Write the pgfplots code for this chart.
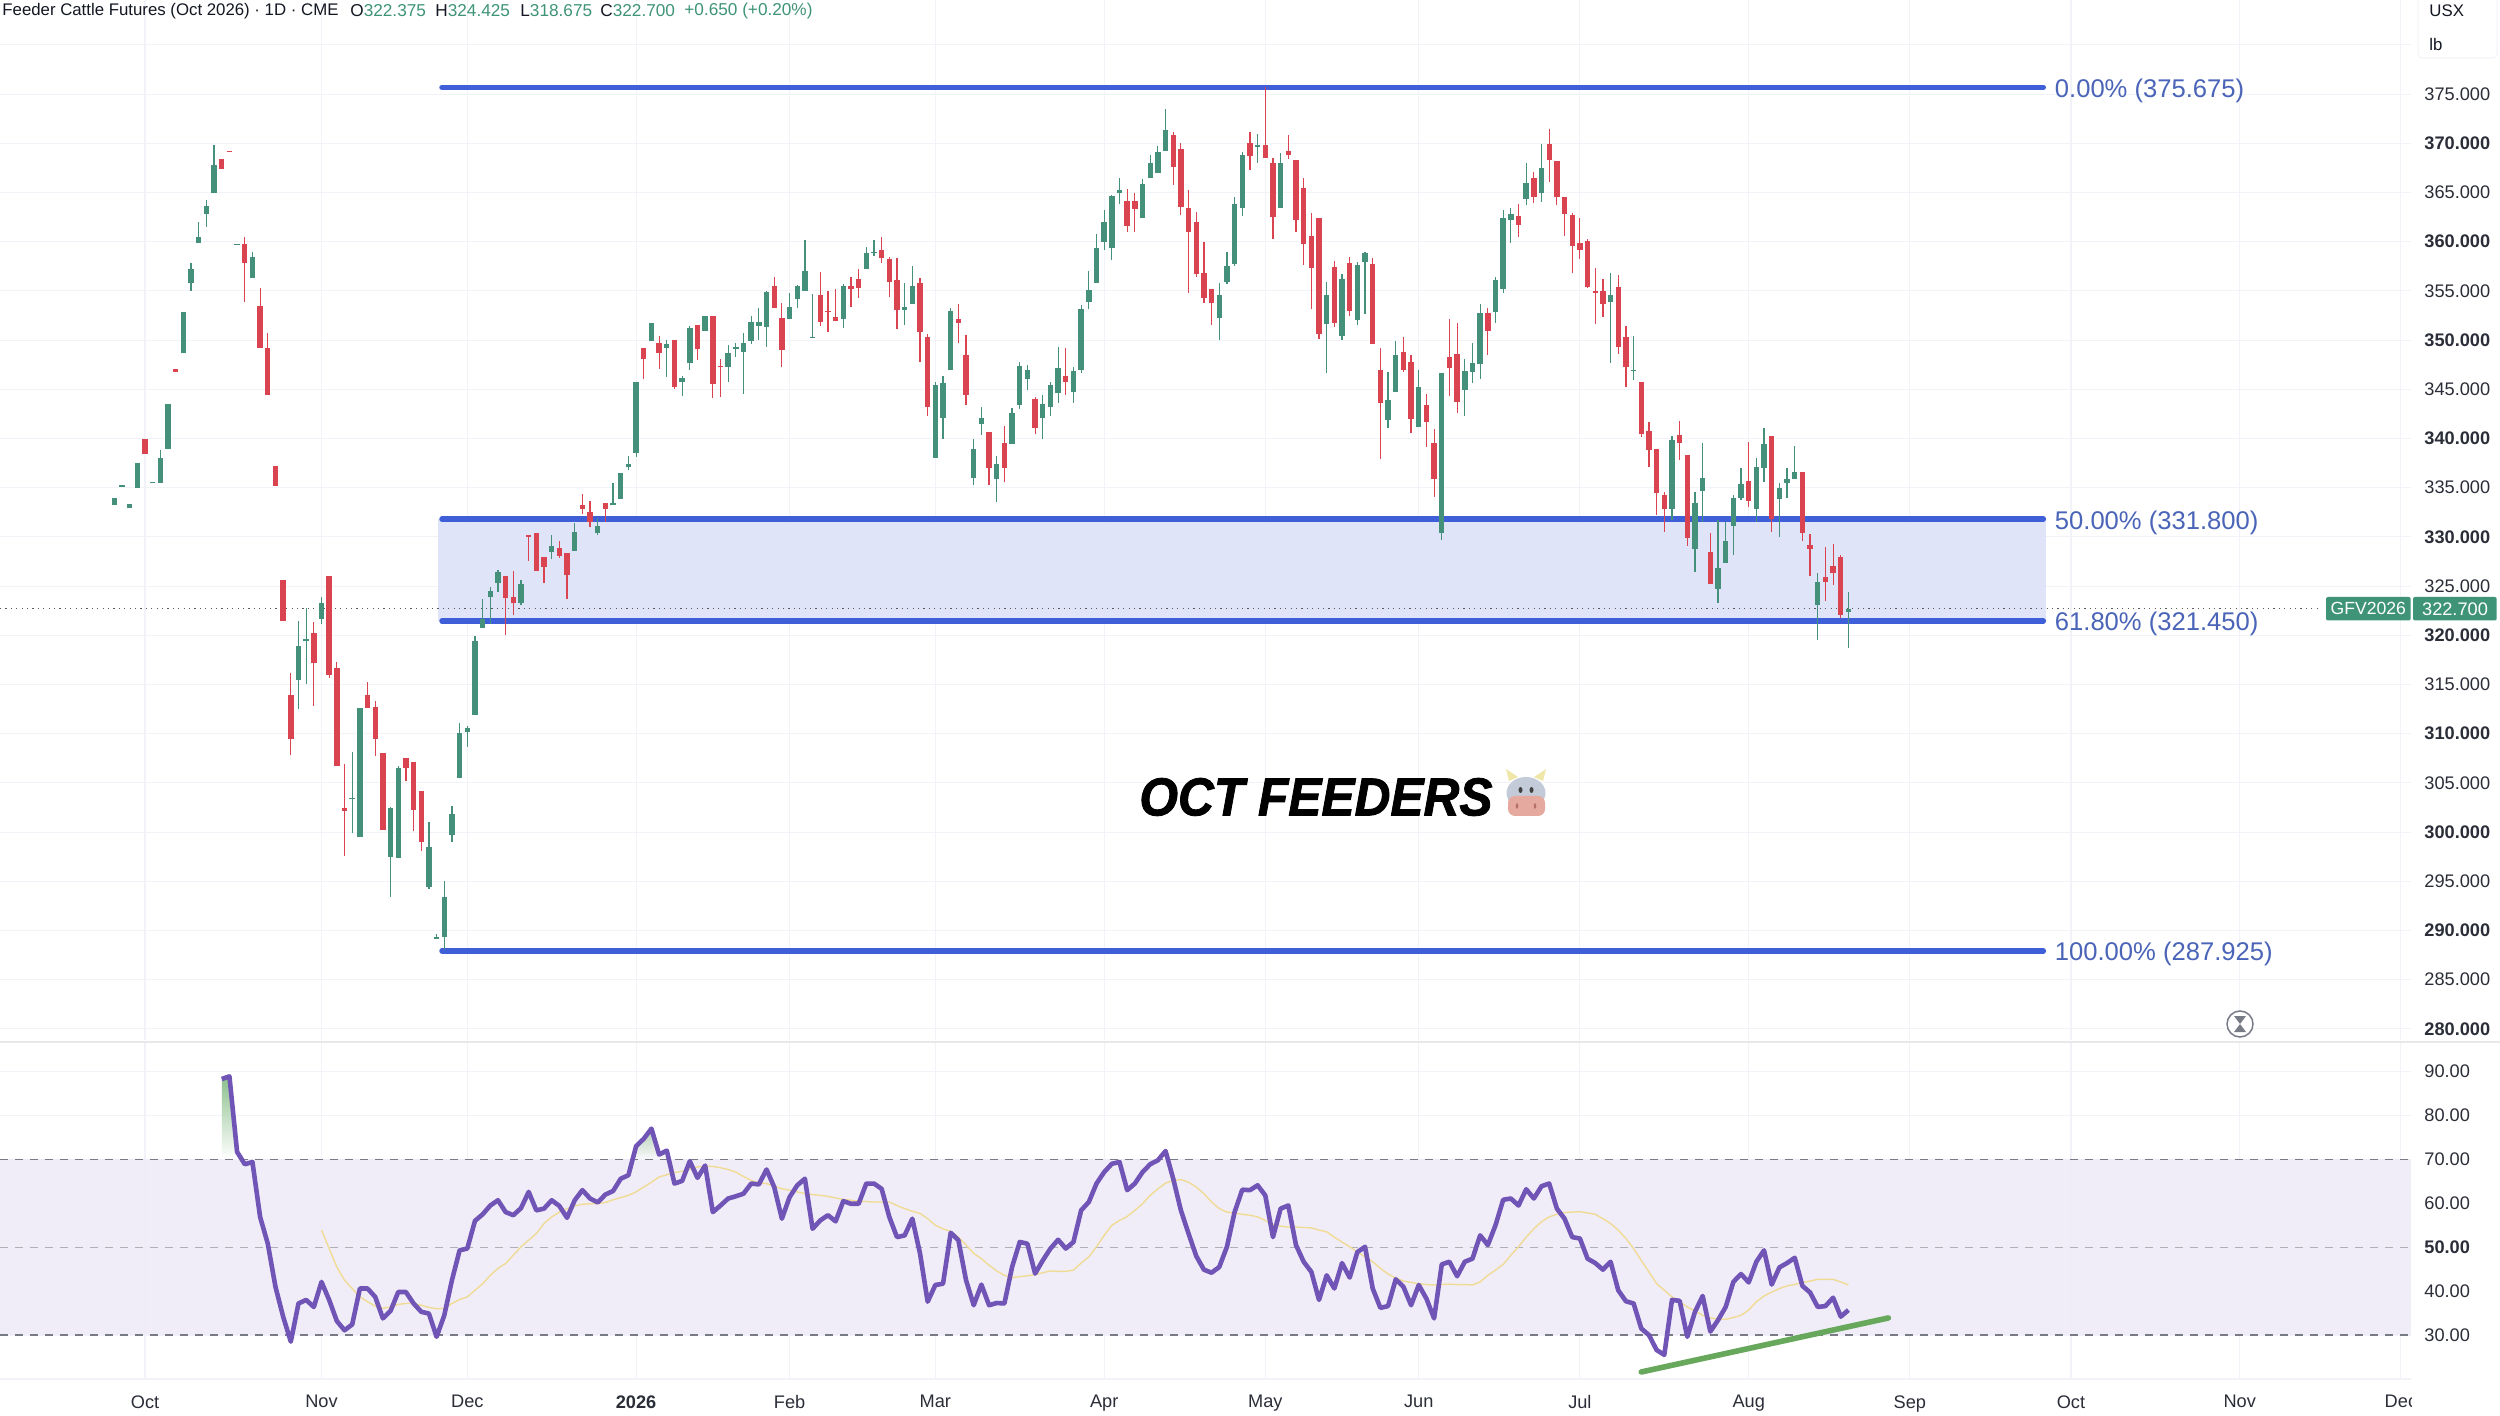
\documentclass[border=0pt]{standalone}
\usepackage{pgfplots}
\usepackage{pgfplotstable}
\usepackage{fontspec}
\pgfplotsset{compat=1.18}
\setmainfont{Liberation Sans}
\newfontface\ttlfont[FakeBold=1.6]{Liberation Sans Bold Italic}
\definecolor{gridc}{HTML}{F1F3F8}
\definecolor{upc}{HTML}{45907A}
\definecolor{dnc}{HTML}{D94450}
\definecolor{fibc}{HTML}{3F5FD9}
\definecolor{fibt}{HTML}{4A64B8}
\definecolor{fibz}{HTML}{DDE2F9}
\definecolor{rsic}{HTML}{7054B6}
\definecolor{sigc}{HTML}{F0DB94}
\definecolor{bandc}{HTML}{EFECF8}
\definecolor{dashc}{HTML}{787B86}
\definecolor{txt}{HTML}{131722}
\definecolor{tagc}{HTML}{3F9478}
\definecolor{trend}{HTML}{68A85C}
\definecolor{cowhead}{HTML}{C3CBD8}
\definecolor{cowsnout}{HTML}{E6A9A0}
\definecolor{cowhorn}{HTML}{EFE6A8}
\definecolor{cownose}{HTML}{B5706E}
\pgfplotstableread{
i o h l c
0 333.27 333.98 333.27 333.98
1 335.10 335.25 335.10 335.25
2 332.97 333.34 332.97 333.34
3 334.94 337.48 334.94 337.48
5 335.45 335.58 335.45 335.58
6 335.48 338.84 335.48 338.02
7 338.97 343.51 338.97 343.51
9 348.66 352.86 348.66 352.86
10 355.77 357.8 355.03 357.2
11 359.91 361.97 359.91 360.45
12 362.78 364.24 361.46 363.63
13 364.92 369.83 364.92 367.76
16 359.68 359.8 359.68 359.8
18 356.35 358.99 356.35 358.48
24 315.45 321.45 312.54 318.91
25 319.38 322.74 315.05 319.59
27 321.69 323.92 321.15 323.25
31 303.36 308.17 299.87 303.5
32 299.53 312.64 299.53 312.64
36 297.5 302.58 293.44 302.41
37 297.4 306.75 297.4 306.48
41 294.45 301.06 294.18 298.48
42 289.17 289.64 289.17 289.31
43 289.37 295.03 288.02 293.44
44 299.74 302.68 298.99 301.84
45 305.46 311.05 305.46 310.03
46 310.2 310.78 308.68 310.61
47 311.9 319.93 311.9 319.45
48 320.78 323.69 320.78 321.62
49 323.86 324.94 321.11 324.5
50 325.28 326.63 324.43 326.43
53 323.25 325.62 323.08 325.18
57 328.5 330.19 327.72 329.11
60 328.56 331.38 328.56 330.5
63 330.43 331.88 330.19 331.11
65 333.21 335.44 333.21 333.41
66 333.85 336.46 333.85 336.46
67 337.07 338.23 336.8 337.38
68 338.56 345.71 338.16 345.71
70 349.91 351.71 349.91 351.71
72 349.23 350.01 346.29 349.61
74 345.71 346.36 344.36 346.12
75 347.64 351.44 346.96 351.2
77 350.93 352.45 350.93 352.45
80 347.3 349.51 345.71 348.66
81 349.13 349.74 348.25 349.3
82 348.79 350.69 344.53 349.67
83 349.95 352.45 349.61 351.88
84 351.44 353.23 350.01 351.88
85 351.37 355.03 349.27 354.86
88 352.11 354.82 352.11 353.33
89 354.15 355.6 353.23 355.54
90 355.03 360.18 355.03 357.03
91 350.22 354.69 350.19 350.36
95 352.19 355.71 351.27 355.51
98 357.2 359.44 357.2 358.89
99 358.86 360.18 358.59 359.0
103 353.1 355.78 351.54 353.4
104 353.64 357.54 353.64 355.54
107 337.99 345.78 337.99 345.44
108 342.06 346.36 339.99 345.61
109 346.97 353.24 346.97 353.0
112 336.03 339.99 335.28 338.94
113 341.51 343.24 340.33 342.09
115 335.93 338.23 333.59 337.42
117 339.41 343.07 339.41 342.57
118 343.41 347.75 343.0 347.41
119 346.09 347.48 344.94 346.97
121 342.06 344.43 339.96 343.48
122 343.24 345.78 342.24 345.44
123 344.67 349.27 343.58 347.21
125 344.7 347.31 343.65 346.87
126 346.97 353.57 346.7 353.13
127 353.91 357.03 353.13 355.1
128 355.84 360.76 355.84 359.33
129 360.01 363.23 359.16 362.04
130 359.4 364.75 358.15 364.65
131 364.92 366.51 363.84 365.23
134 362.38 366.35 362.38 365.87
135 366.45 368.82 366.45 367.97
136 366.95 369.73 366.95 369.16
137 369.26 373.46 369.26 371.36
144 352.22 355.78 350.02 354.59
145 355.88 358.96 355.71 357.54
146 357.71 364.52 357.54 363.8
147 363.47 369.16 362.65 368.82
149 369.66 370.95 368.04 369.8
152 363.47 369.06 363.47 367.97
158 351.64 355.95 346.7 354.59
160 350.42 356.72 350.02 356.18
162 352.05 357.98 351.54 357.61
163 357.91 358.99 352.66 358.89
166 341.89 346.8 341.04 343.92
167 344.7 349.95 344.7 348.46
170 341.14 346.97 341.14 345.27
173 330.44 346.63 329.69 346.63
176 344.94 348.05 342.24 346.87
177 346.77 349.68 345.61 347.65
178 347.54 353.68 346.02 352.8
180 352.86 356.39 351.71 356.11
181 355.17 363.23 354.76 362.38
182 362.18 363.4 359.84 362.79
184 364.38 367.97 363.74 366.01
186 364.99 369.94 364.04 367.5
195 353.85 356.79 347.65 354.59
198 346.83 350.46 345.95 346.97
203 332.81 340.26 331.72 339.85
206 328.81 334.54 326.47 333.42
207 334.67 339.52 331.56 335.96
209 324.75 331.72 323.32 326.81
210 327.39 331.56 327.39 329.62
211 331.15 334.27 328.17 333.99
212 333.96 336.98 333.76 335.35
214 332.81 337.99 331.56 337.14
215 337.01 341.04 335.62 339.41
217 333.86 335.45 329.96 334.94
218 335.52 336.98 333.99 335.86
219 335.93 339.25 335.86 336.64
222 323.09 326.3 319.53 325.46
226 322.375 324.425 318.675 322.7
}\upbars
\pgfplotstableread{
i o h l c
4 339.95 339.95 338.43 338.43
8 347.1 347.1 346.76 346.76
14 368.44 368.44 367.39 367.39
15 369.2 369.2 369.08 369.08
17 359.74 360.45 353.84 357.87
19 353.47 355.26 349.23 349.23
20 349.2 350.69 344.42 344.42
21 337.24 337.24 335.18 335.18
22 325.62 325.62 321.42 321.42
23 313.96 316.13 307.8 309.46
26 320.2 321.32 312.85 317.22
28 326.02 326.02 315.69 315.96
29 316.64 317.32 306.75 306.75
30 302.41 306.88 297.6 302.18
33 313.9 315.29 312.61 312.61
34 312.68 313.35 307.77 309.46
35 308.07 308.07 300.21 300.21
38 307.56 307.56 305.22 306.48
39 307.09 307.09 300.11 302.24
40 304.21 304.21 298.08 299.03
51 326.02 326.02 320.03 323.82
52 323.89 326.57 322.06 323.25
54 330.15 330.19 327.55 330.03
55 330.36 330.36 326.57 326.57
56 327.92 327.92 325.28 326.9
58 328.84 329.61 327.89 328.06
59 328.4 328.4 323.69 326.16
61 333.21 334.32 332.29 332.83
62 332.56 333.68 331.04 331.55
64 333.48 333.48 331.55 332.87
69 349.2 349.2 346.02 348.12
71 349.74 350.42 347.1 348.66
73 350.01 350.01 345.0 345.27
76 351.54 351.54 347.98 349.07
78 352.45 352.45 344.09 345.51
79 347.36 348.05 344.25 347.24
86 355.54 356.38 353.23 353.23
87 352.22 353.74 347.3 349.0
92 354.62 356.96 351.47 351.88
93 352.97 355.03 350.8 352.83
94 352.32 355.17 351.91 351.91
96 355.54 356.45 353.34 355.2
97 356.18 357.2 354.29 355.34
100 359.16 360.48 357.81 358.38
101 358.25 358.49 354.35 355.95
102 356.08 358.38 351.1 353.1
105 355.84 356.35 347.82 350.8
106 350.32 350.6 342.33 343.17
110 352.15 353.64 349.68 351.78
111 348.46 350.53 343.41 344.43
114 340.67 340.67 335.28 336.98
116 339.52 341.28 335.55 336.98
120 343.99 344.26 340.43 341.11
124 346.36 349.17 344.43 345.78
132 364.18 365.36 361.03 361.6
133 364.11 364.92 361.03 363.33
138 370.85 371.12 365.77 367.56
139 369.43 370.0 362.72 363.57
140 363.4 365.26 354.76 360.99
141 362.01 363.06 356.39 356.69
142 356.79 360.01 353.81 354.25
143 355.2 355.2 351.54 353.81
148 370.0 371.19 367.29 368.72
150 369.83 375.675 368.48 368.48
151 367.97 368.48 360.25 362.55
153 369.19 370.85 368.38 368.78
154 368.31 368.31 361.03 362.21
155 365.5 366.45 357.64 359.77
156 360.62 362.96 353.13 357.3
157 362.45 362.45 350.09 350.63
159 357.4 358.08 351.3 351.78
161 357.88 358.42 352.49 353.0
164 357.74 358.38 349.58 349.58
165 346.97 349.17 337.92 343.58
168 348.8 350.29 346.8 346.97
169 347.82 348.49 340.53 341.99
171 343.41 344.53 339.18 341.72
172 339.52 340.97 334.1 335.89
174 348.32 352.12 344.33 347.14
175 348.59 351.71 342.57 343.72
179 352.8 353.24 348.49 350.93
183 362.62 363.84 360.52 361.7
185 366.48 367.06 363.91 364.52
187 369.94 371.43 366.04 368.31
188 368.21 368.21 363.7 364.52
189 364.55 364.55 360.62 362.82
190 362.72 362.96 356.79 359.57
191 359.84 362.38 358.25 359.16
192 360.04 360.25 355.27 355.44
193 354.97 357.3 351.61 354.83
194 355.03 356.18 352.39 353.68
196 355.37 356.62 348.59 349.27
197 350.29 351.44 345.21 347.31
199 345.78 345.78 340.13 340.46
200 340.77 341.65 337.08 338.84
201 338.91 338.91 332.23 334.44
202 334.26 334.6 330.54 332.81
204 340.36 341.82 337.82 339.58
205 338.33 338.33 329.08 329.86
208 328.47 330.44 325.22 325.22
213 335.65 339.62 333.01 333.69
216 340.26 340.26 330.54 331.83
220 336.6 336.6 329.62 330.37
221 329.18 330.27 326.07 328.81
223 325.9 329.01 323.49 325.39
224 327.05 329.29 325.12 326.3
225 327.93 328.17 321.73 322.07
}\dnbars
\pgfplotstableread{
i r
14 88.3
15 88.9
16 71.7
17 68.9
18 69.4
19 56.9
20 50.8
21 41
22 34.2
23 28.5
24 37.2
25 38
26 36.4
27 42.1
28 38
29 33.2
30 31.1
31 32.4
32 40.6
33 40.6
34 38.7
35 33.8
36 35.5
37 39.8
38 39.8
39 37.2
40 35.3
41 34.9
42 29.6
43 34.5
44 42.5
45 49.3
46 49.7
47 56
48 57.5
49 59.5
50 60.7
51 58
52 57.3
53 58.9
54 62.6
55 58.4
56 58.8
57 60.7
58 59.4
59 56.7
60 60.7
61 63
62 61.1
63 60.2
64 62
65 62.8
66 65.6
67 66.4
68 73
69 74.7
70 77
71 71.1
72 72
73 64.5
74 65.1
75 69.6
76 65.8
77 68.6
78 58
79 59.5
80 61.1
81 61.6
82 62.2
83 64.5
84 64.3
85 67.7
86 63.7
87 56.5
88 61.4
89 64.1
90 65.6
91 54.2
92 56.1
93 57.3
94 55.9
95 60.5
96 59.9
97 59.9
98 64.5
99 64.5
100 63.3
101 56.9
102 52.3
103 52.7
104 56.5
105 48.6
106 37.6
107 41.4
108 41.7
109 53.3
110 51.6
111 42.5
112 36.8
113 41.5
114 36.8
115 37.3
116 37.2
117 45.5
118 51.2
119 50.8
120 44
121 47
122 49.7
123 51.7
124 49.7
125 51.2
126 58.4
127 60.3
128 64.5
129 67.1
130 69
131 69.4
132 63
133 64.5
134 67.1
135 68.9
136 69.8
137 71.9
138 65.6
139 58.4
140 53.1
141 48
142 44.9
143 44.2
144 45.5
145 50.1
146 58
147 63.1
148 63
149 64.1
150 61.8
151 52.3
152 58.8
153 59.5
154 50.5
155 46.7
156 44.4
157 38
158 43.6
159 40.6
160 46.4
161 43.1
162 48.9
163 50.1
164 40.6
165 36.2
166 36.6
167 42.7
168 41
169 36.8
170 41.4
171 38.3
172 33.8
173 46.1
174 46.7
175 43.4
176 46.7
177 47.4
178 52.7
179 50.5
180 55
181 60.8
182 61.1
183 59.5
184 63.2
185 61.1
186 63.9
187 64.5
188 58.8
189 56.5
190 52.3
191 52
192 47.4
193 46.4
194 44.9
195 46.7
196 40.2
197 37.7
198 37.2
199 31.5
200 30
201 26.6
202 25.5
203 38
204 37.8
205 29.6
206 35.3
207 38.9
208 30.8
209 33.4
210 36.4
211 42.1
212 43.9
213 42
214 46.7
215 49.3
216 41.5
217 45.4
218 46.4
219 47.6
220 41.2
221 39.7
222 36.4
223 36.6
224 38.5
225 34.2
226 35.7
}\rsitab
\pgfplotstableread{
i s
27 53.9
28 49.7
29 45.5
30 42.5
31 40.6
32 38.7
33 37.6
34 36.6
35 36.1
36 36.4
37 37
38 37.2
39 37.2
40 36.8
41 36.3
42 36
43 36.1
44 37.2
45 38.1
46 38.7
47 40.2
48 41.7
49 43.6
50 45.2
51 46.3
52 48.2
53 50.1
54 51.6
55 53.1
56 55.4
57 56.9
58 58
59 58.8
60 59.4
61 59.8
62 59.9
63 59.9
64 60.2
65 60.8
66 61.3
67 61.8
68 62.6
69 63.7
70 64.8
71 66
72 66.5
73 67
74 67.3
75 67.7
76 68.3
77 68.4
78 68.4
79 68.1
80 67.7
81 67.1
82 66.1
83 65.2
84 64.6
85 64.5
86 63.9
87 63.3
88 63
89 62.6
90 62.2
91 62
92 61.8
93 61.6
94 61.2
95 60.9
96 60.7
97 60.5
98 60.4
99 60.3
100 60.3
101 60.3
102 59.5
103 58.8
104 58.2
105 57.7
106 56.5
107 55
108 54.2
109 53.6
110 52.3
111 50.5
112 48.6
113 47.4
114 45.9
115 44.6
116 43.6
117 43.1
118 43.3
119 43.5
120 43.8
121 44.2
122 44.6
123 44.5
124 44.5
125 44.8
126 46.4
127 47.8
128 50.1
129 52.7
130 55
131 56.1
132 57
133 58.4
134 59.9
135 61.8
136 63.3
137 64.6
138 65.2
139 65.4
140 64.8
141 63.7
142 62.2
143 60.3
144 58.8
145 58
146 57.8
147 57.5
148 57.3
149 56.9
150 56.1
151 55.2
152 54.8
153 54.6
154 54.6
155 54.5
156 54.4
157 53.9
158 53.5
159 52.3
160 51.2
161 50.1
162 48.9
163 47.8
164 46.7
165 45.2
166 43.9
167 43
168 42.3
169 42
170 41.7
171 41.5
172 41.4
173 41.5
174 41.6
175 41.5
176 41.5
177 41.4
178 42.1
179 43.6
180 44.8
181 46.1
182 48.2
183 50.1
184 52.3
185 54.2
186 55.8
187 56.9
188 57.5
189 57.9
190 58
191 58.1
192 57.8
193 57.5
194 56.5
195 55.4
196 53.9
197 52
198 49.7
199 47
200 44.4
201 41.7
202 40.2
203 38.7
204 37.6
205 36.4
206 35.5
207 34.5
208 33.9
209 33.6
210 33.6
211 34
212 34.5
213 35.7
214 37.6
215 38.9
216 39.8
217 40.6
218 41.2
219 41.5
220 42
221 42.3
222 42.7
223 42.7
224 42.7
225 42.1
226 41.4
}\sigtab
\pgfplotsset{
  paneaxis/.style={
    scale only axis, width=1205.5pt, xmin=-14.9, xmax=299.32,
    axis line style={draw=none}, major tick length=0pt,
    tick style={draw=none}, grid=major,
    grid style={line width=0.55pt,color=gridc},
    xtick={4,27,46,68,88,107,129,150,170,191,213,234,255,277,298},
    ytick pos=right, xtick pos=bottom,
    yticklabel style={anchor=west,inner sep=0pt,xshift=6.5pt,font=\fontsize{9.1}{10}\selectfont,text=txt!90},
    xticklabel style={anchor=north,inner sep=0pt,yshift=-8pt,font=\fontsize{9.1}{10}\selectfont,text=txt!90},
    clip=false,
  },
  wick/.style={draw=none, no marks, forget plot, error bars/.cd, y dir=plus, y explicit, error mark=none,
     error bar style={line width=0.6pt,color=#1}},
  body/.style={draw=none, no marks, forget plot, error bars/.cd, y dir=plus, y explicit, error mark=none,
     error bar style={line width=2.7pt,color=#1}},
  fibline/.style={line width=2.7pt,color=fibc,line cap=round,forget plot},
}
\begin{document}
\begin{tikzpicture}
\path[use as bounding box] (0,0) rectangle (1250pt,707.5pt);
\fill[white] (0,0) rectangle (1250pt,707.5pt);
% ---------- price pane
\begin{axis}[paneaxis, at={(0pt,187.5pt)}, anchor=south west, height=520pt,
  ymin=278.87, ymax=384.56,
  xticklabels={},
  ytick={280,285,...,380},
  yticklabels={\textbf{280.000},285.000,\textbf{290.000},295.000,\textbf{300.000},305.000,\textbf{310.000},315.000,\textbf{320.000},325.000,\textbf{330.000},335.000,\textbf{340.000},345.000,\textbf{350.000},355.000,\textbf{360.000},365.000,\textbf{370.000},375.000,{}},
]
\addplot[fill=fibz,fill opacity=0.9,draw=none,forget plot] coordinates {(42.24,331.8)(251.8,331.8)(251.8,321.45)(42.24,321.45)} --cycle;
\addplot[color=black!65,line width=0.55pt,dash pattern=on 0.55pt off 2.15pt,forget plot] coordinates {(-14.9,322.7)(287.7,322.7)};
\addplot[fibline] coordinates {(42.7,375.675)(251.4,375.675)};
\addplot[fibline] coordinates {(42.7,331.8)(251.4,331.8)};
\addplot[fibline] coordinates {(42.7,321.45)(251.4,321.45)};
\addplot[fibline] coordinates {(42.7,287.925)(251.4,287.925)};
\addplot[wick=upc] table[x=i,y=l,y error plus expr=\thisrow{h}-\thisrow{l}] {\upbars};
\addplot[body=upc] table[x=i,y=o,y error plus expr=\thisrow{c}-\thisrow{o}] {\upbars};
\addplot[wick=dnc] table[x=i,y=l,y error plus expr=\thisrow{h}-\thisrow{l}] {\dnbars};
\addplot[body=dnc] table[x=i,y=c,y error plus expr=\thisrow{o}-\thisrow{c}] {\dnbars};
\end{axis}
% ---------- RSI pane
\begin{axis}[paneaxis, at={(0pt,18pt)}, anchor=south west, height=168pt,
  ymin=20, ymax=96.5,
  xticklabels={Oct,Nov,Dec,\textbf{2026},Feb,Mar,Apr,May,Jun,Jul,Aug,Sep,Oct,Nov,Dec},
  ytick={20,30,...,90},
  yticklabels={{},30.00,40.00,\textbf{50.00},60.00,70.00,80.00,90.00},
]
\addplot[fill=bandc,fill opacity=0.9,draw=none,forget plot] coordinates {(-14.9,70)(299.32,70)(299.32,30)(-14.9,30)} --cycle;
\addplot[draw=none,forget plot,shade,top color=green!45!black!45!white,bottom color=white] coordinates {(14,70)(14,88.3)(15,88.9)(16,71.7)(16.27,70)} --cycle;
\addplot[draw=none,forget plot,shade,top color=green!40!black!30!white,bottom color=bandc!30!white] coordinates {(67.55,70)(68,73)(69,74.7)(70,77)(71,71.1)(72,72)(72.27,70)} --cycle;
\addplot[color=dashc,line width=0.6pt,dash pattern=on 4pt off 3.5pt,forget plot] coordinates {(-14.9,70)(299.32,70)};
\addplot[color=dashc!60!white,line width=0.6pt,dash pattern=on 4pt off 3.5pt,forget plot] coordinates {(-14.9,50)(299.32,50)};
\addplot[color=dashc,line width=0.6pt,dash pattern=on 4pt off 3.5pt,forget plot] coordinates {(-14.9,30)(299.32,30)};
\addplot[color=sigc,line width=0.7pt,forget plot] table[x=i,y=s] {\sigtab};
\addplot[color=trend,line width=2.8pt,line cap=round,forget plot] coordinates {(199,21.6)(231.2,33.9)};
\addplot[color=rsic,line width=2.3pt,line join=round,forget plot] table[x=i,y=r] {\rsitab};
\end{axis}
% ---------- overlays, in reference pixels
\begin{scope}[yshift=707.5pt,x=0.5pt,y=-0.5pt]
\draw[color=black!9,line width=0.9pt] (0,1041.7) -- (2500,1041.7);
\fill[white] (2411.5,1388) rectangle (2422,1415);
\draw[color=gridc,line width=0.5pt,rounded corners=2pt] (2418,-6) rectangle (2497,58);
\node[anchor=west,inner sep=0,text=txt] at (2429,11) {\fontsize{8.4}{10}\selectfont USX};
\node[anchor=west,inner sep=0,text=txt] at (2429,45) {\fontsize{8.4}{10}\selectfont lb};
% header
\node[anchor=west,inner sep=0,text=txt] at (2,11) {\fontsize{8.4}{10}\selectfont Feeder Cattle Futures (Oct 2026) · 1D · CME};
\def\hdr#1#2#3{\node[anchor=west,inner sep=0,text=txt] at (#1,11) {\fontsize{8.6}{10}\selectfont #2\textcolor{tagc}{#3}};}
\hdr{350}{O}{322.375}
\hdr{435}{H}{324.425}
\hdr{520}{L}{318.675}
\hdr{600}{C}{322.700}
\hdr{684}{}{+0.650 (+0.20\%)}
% fib labels
\def\fib#1#2{\node[anchor=west,inner sep=0,text=fibt] at (2054.5,#1) {\fontsize{12.8}{14}\selectfont #2};}
\fib{91}{0.00\% (375.675)}
\fib{523}{50.00\% (331.800)}
\fib{624}{61.80\% (321.450)}
\fib{954}{100.00\% (287.925)}
% last-price tags
\fill[tagc,rounded corners=1pt] (2326,597) rectangle (2410.7,620.5);
\fill[tagc,rounded corners=1pt] (2413,597) rectangle (2496.7,620.5);
\node[text=white,inner sep=0] at (2368.3,608.8) {\fontsize{8.8}{10}\selectfont GFV2026};
\node[text=white,inner sep=0] at (2455,608.8) {\fontsize{9.1}{10}\selectfont 322.700};
% hourglass
\draw[color=dashc,line width=0.75pt,fill=white] (2240,1024) circle (13);
\fill[dashc] (2234,1016) -- (2246,1016) -- (2240,1024) -- cycle;
\fill[dashc] (2234,1032) -- (2246,1032) -- (2240,1024) -- cycle;
% title
\node[anchor=west,inner sep=0,text=black,xscale=0.93] at (1139,797) {\fontsize{26.7}{30}\selectfont\ttlfont OCT FEEDERS};
% cow
\fill[cowhorn] (1509,781) -- (1506,769) -- (1518,777) -- cycle;
\fill[cowhorn] (1543,781) -- (1546,769) -- (1534,777) -- cycle;
\fill[cowhead] (1526,793) ellipse (19.5 and 16);
\fill[cowsnout,rounded corners=3.5pt] (1508,796) rectangle (1545,816);
\fill[black!75] (1520.5,790) ellipse (2 and 3);
\fill[black!75] (1531.5,790) ellipse (2 and 3);
\fill[cownose] (1517,806) ellipse (1.3 and 2.7);
\fill[cownose] (1535,806) ellipse (1.3 and 2.7);
\end{scope}
\end{tikzpicture}
\end{document}
